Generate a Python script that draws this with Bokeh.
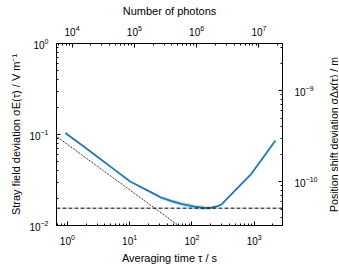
import math
from bokeh.plotting import figure
from bokeh.layouts import row
from bokeh.models import LogAxis, Range1d, LogScale, FixedTicker, LogTickFormatter, Span, Label
from bokeh.embed import file_html
from bokeh.resources import INLINE

# ---- data ----
tau = [0.93, 2.0, 3.03, 5.5, 10.2, 20, 31.9, 46, 70, 110, 159, 210, 260, 297, 500, 901, 1500, 2197]
sigma_E = [0.104, 0.0705, 0.0569, 0.0419, 0.0305, 0.0240, 0.0203, 0.0186, 0.0172, 0.0161,
           0.0156, 0.0157, 0.0163, 0.0170, 0.0245, 0.037, 0.060, 0.086]
band_frac = [0, 0, 0, 0, 0, 0.02, 0.04, 0.05, 0.06, 0.06, 0.06, 0.05, 0.03, 0.01, 0, 0, 0, 0]

floor_level = 0.0155          # dashed horizontal line
white_tau = [0.5, 100.0]      # dotted 1/sqrt(tau) reference line
white_E = [0.1103, 0.0078]

tau_range = (0.67, 2850.0)
E_range = (0.01, 1.0)
photon_rate = 8400.0          # photons per second (top axis)
dx_per_E = 3.3e-9             # m per (V/m) (right axis)

x_label = "Averaging time τ / s"
y_label = "Stray field deviation σE(τ) / V m⁻¹"
top_label = "Number of photons"
right_label = "Position shift deviation σΔx(τ) / m"

FONT = "Liberation Sans"
BLUE = "#1f77b4"

lower = [e * (1 - f) for e, f in zip(sigma_E, band_frac)]
upper = [e * (1 + f) for e, f in zip(sigma_E, band_frac)]


def log_ticks(lo, hi):
    e0 = math.floor(math.log10(lo)) - 1
    e1 = math.ceil(math.log10(hi)) + 1
    major = [10.0 ** e for e in range(e0, e1 + 1) if lo * 0.999 <= 10.0 ** e <= hi * 1.001]
    minor = [m * 10.0 ** e for e in range(e0, e1 + 1) for m in range(1, 10)
             if lo <= m * 10.0 ** e <= hi]
    return FixedTicker(ticks=major, minor_ticks=minor)


FRAME_H, TOP, BOTTOM = 182, 43, 38

p = figure(frame_width=226, frame_height=FRAME_H,
           x_axis_type="log", y_axis_type="log",
           x_range=Range1d(*tau_range), y_range=Range1d(*E_range),
           output_backend="svg", toolbar_location=None,
           min_border_left=56, min_border_right=36,
           min_border_top=TOP, min_border_bottom=BOTTOM)

bottom_axis = p.below[0]
left_axis = p.left[0]

p.extra_x_ranges = {"ph": Range1d(tau_range[0] * photon_rate, tau_range[1] * photon_rate)}
p.extra_x_scales = {"ph": LogScale()}
p.extra_y_ranges = {"dx": Range1d(E_range[0] * dx_per_E, E_range[1] * dx_per_E)}
p.extra_y_scales = {"dx": LogScale()}

top_axis = LogAxis(x_range_name="ph", axis_label=top_label,
                   ticker=log_ticks(tau_range[0] * photon_rate, tau_range[1] * photon_rate))
right_axis = LogAxis(y_range_name="dx",
                     ticker=log_ticks(E_range[0] * dx_per_E, E_range[1] * dx_per_E))
p.add_layout(top_axis, "above")
p.add_layout(right_axis, "right")

bottom_axis.ticker = log_ticks(*tau_range)
left_axis.ticker = log_ticks(*E_range)
bottom_axis.axis_label = x_label
left_axis.axis_label = y_label

for ax in [bottom_axis, left_axis, top_axis, right_axis]:
    ax.formatter = LogTickFormatter()
    ax.major_tick_in = 4
    ax.major_tick_out = 0
    ax.minor_tick_in = 2
    ax.minor_tick_out = 0
    ax.axis_line_color = "black"
    ax.major_tick_line_color = "black"
    ax.minor_tick_line_color = "black"
    ax.major_label_text_font = FONT
    ax.major_label_text_font_size = "10px"
    ax.major_label_text_color = "black"
    ax.axis_label_text_font = FONT
    ax.axis_label_text_font_size = "11px"
    ax.axis_label_text_font_style = "normal"
    ax.axis_label_text_color = "black"
    ax.major_label_standoff = 8
    ax.axis_label_standoff = 4

right_axis.major_label_standoff = 12
top_axis.axis_label_standoff = 5

p.grid.visible = False
p.outline_line_color = "black"

p.varea(x=tau, y1=lower, y2=upper, fill_color=BLUE, fill_alpha=0.22)
p.line(tau, sigma_E, line_color=BLUE, line_width=1.8)
p.add_layout(Span(location=floor_level, dimension="width", line_color="black",
                  line_width=1, line_dash="4 2"))
p.line(white_tau, white_E, line_color="black", line_width=1, line_dash="1 1")

# narrow strip on the right carrying the right-axis title (reads bottom-to-top)
STRIP_W = 18
p2 = figure(frame_width=STRIP_W, frame_height=FRAME_H,
            x_range=Range1d(0, STRIP_W), y_range=Range1d(0, 1),
            output_backend="svg", toolbar_location=None,
            min_border_left=0, min_border_right=0,
            min_border_top=TOP, min_border_bottom=BOTTOM)
p2.axis.visible = False
p2.grid.visible = False
p2.outline_line_color = None
p2.add_layout(Label(x=13, y=0.5, text=right_label, angle=math.pi / 2,
                    text_align="center", text_baseline="middle", text_font=FONT,
                    text_font_size="10.5px", text_color="black"))

layout = row(p, p2, spacing=0)
open("out.html", "w").write(file_html(layout, INLINE))
